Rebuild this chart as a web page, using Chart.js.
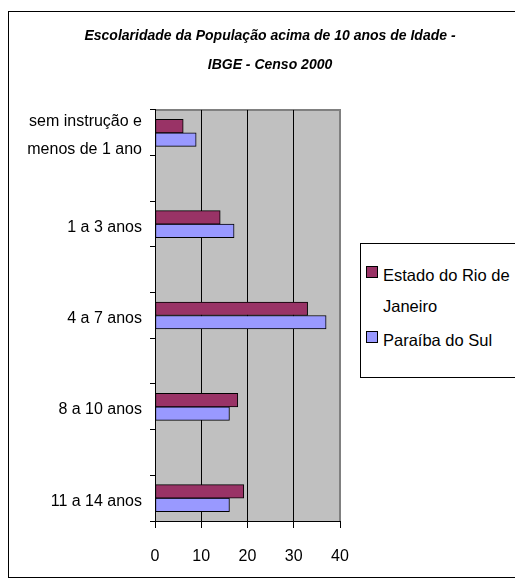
<!DOCTYPE html>
<html>
<head>
<meta charset="utf-8">
<script src="https://cdn.jsdelivr.net/npm/chart.js@4.4.1/dist/chart.umd.min.js"></script>
<style>
  html, body { margin: 0; padding: 0; background: #fff; overflow: hidden; }
  body { width: 515px; height: 583px; position: relative; }
  #frame {
    position: absolute; left: 8px; top: 11px; width: 524px; height: 567px;
    border: 1px solid #000; box-sizing: border-box; background: #fff;
  }
  #legend {
    position: absolute; left: 360px; top: 243px; width: 170px; height: 135px;
    border: 1px solid #000; box-sizing: border-box; background: #fff;
    font-family: "Liberation Sans", Arial, sans-serif;
    font-size: 16.5px; line-height: 31px; color: #000; padding: 16px 0 0 5px;
  }
  .item { display: flex; align-items: flex-start; }
  .item + .item { margin-top: 3px; }
  .swatch { width: 12px; height: 12px; border: 1px solid #000; box-sizing: border-box; margin: 6px 5px 0 0; flex: none; }
  .label { width: 132px; }
</style>
</head>
<body>
<div id="frame"><canvas id="chart"></canvas></div>
<div id="legend"></div>
<script>
const categories = [["sem instrução e", "menos de 1 ano"], "1 a 3 anos", "4 a 7 anos", "8 a 10 anos", "11 a 14 anos"];
const rioDeJaneiro = [6.1, 14.1, 33, 17.9, 19.2];
const paraibaDoSul = [8.9, 17.1, 37, 16.1, 16.1];
const seriesNames = ["Estado do Rio de Janeiro", "Paraíba do Sul"];
const seriesColors = ["#993366", "#9999ff"];
const xTicks = [0, 10, 20, 30, 40];

Chart.defaults.font.family = "'Liberation Sans', Arial, sans-serif";
Chart.defaults.color = "#000";

// category bands run from -0.25 to 4.25, tick marks every half band
const yMin = -0.25;
const yMax = categories.length - 0.75;
const markPositions = [];
for (let v = yMin; v <= yMax + 1e-9; v += 0.5) markPositions.push(v);

const plotBg = {
  id: "plotBg",
  beforeDraw(chart) {
    const { ctx, chartArea: a } = chart;
    ctx.save();
    ctx.fillStyle = "#c0c0c0";
    ctx.fillRect(a.left, a.top, a.width, a.height);
    ctx.strokeStyle = "#808080";
    ctx.lineWidth = 2;
    ctx.beginPath();
    ctx.moveTo(a.left, a.top);
    ctx.lineTo(a.right, a.top);
    ctx.lineTo(a.right, a.bottom);
    ctx.stroke();
    ctx.restore();
  }
};

const toPoints = vals => vals.map((v, i) => ({ x: v, y: i }));

new Chart(document.getElementById("chart"), {
  type: "bar",
  data: {
    datasets: [
      { label: seriesNames[0], data: toPoints(rioDeJaneiro), backgroundColor: seriesColors[0] },
      { label: seriesNames[1], data: toPoints(paraibaDoSul), backgroundColor: seriesColors[1] }
    ].map(d => ({ ...d, borderColor: "#000", borderWidth: 1, borderSkipped: false, barThickness: 13.5 }))
  },
  options: {
    indexAxis: "y",
    responsive: true,
    maintainAspectRatio: false,
    animation: false,
    layout: { padding: 0 },
    plugins: {
      legend: { display: false },
      tooltip: { enabled: false },
      title: {
        display: true,
        text: ["Escolaridade da População acima de 10 anos de Idade -", "IBGE - Censo 2000"],
        color: "#000",
        font: { size: 14, weight: "bold", style: "italic", lineHeight: 2.07 },
        padding: { top: 10, bottom: 30 }
      }
    },
    scales: {
      x: {
        type: "linear",
        min: 0,
        max: 40,
        afterBuildTicks: s => { s.ticks = xTicks.map(v => ({ value: v })); },
        afterFit: s => { s.height = 56; },
        grid: {
          color: c => (c.tick && c.tick.value === 40 ? "#808080" : "#000"),
          tickColor: "#000",
          tickLength: 7,
          lineWidth: 1
        },
        border: { color: "#000", width: 1 },
        ticks: { color: "#000", padding: 19, font: { size: 16 } }
      },
      y: {
        type: "linear",
        position: "left",
        weight: 1,
        reverse: true,
        offset: false,
        min: yMin,
        max: yMax,
        afterBuildTicks: s => { s.ticks = categories.map((c, i) => ({ value: i })); },
        afterFit: s => { s.width = 141; },
        grid: { display: false, drawTicks: false, offset: false },
        border: { display: false },
        ticks: {
          color: "#000",
          padding: 8,
          labelOffset: 3,
          font: { size: 16, lineHeight: 1.75 },
          callback: v => categories[v]
        }
      },
      yMarks: {
        type: "linear",
        position: "left",
        weight: 0,
        reverse: true,
        offset: false,
        min: yMin,
        max: yMax,
        afterBuildTicks: s => { s.ticks = markPositions.map(v => ({ value: v })); },
        afterFit: s => { s.width = 5; },
        grid: { drawOnChartArea: false, offset: false, color: "#000", tickLength: 5 },
        border: { color: "#000", width: 1 },
        ticks: { display: false }
      },
      // empty space to the right of the plot, where the legend sits
      gap: {
        type: "linear",
        position: "right",
        offset: false,
        afterFit: s => { s.width = 191; },
        grid: { display: false, drawTicks: false, offset: false },
        border: { display: false },
        ticks: { display: false }
      }
    }
  },
  plugins: [plotBg]
});

// legend box, built from the series arrays
const legend = document.getElementById("legend");
seriesNames.forEach((name, i) => {
  const row = document.createElement("div");
  row.className = "item";
  const sw = document.createElement("span");
  sw.className = "swatch";
  sw.style.background = seriesColors[i];
  const tx = document.createElement("span");
  tx.className = "label";
  tx.textContent = name;
  row.appendChild(sw);
  row.appendChild(tx);
  legend.appendChild(row);
});
</script>
</body>
</html>
